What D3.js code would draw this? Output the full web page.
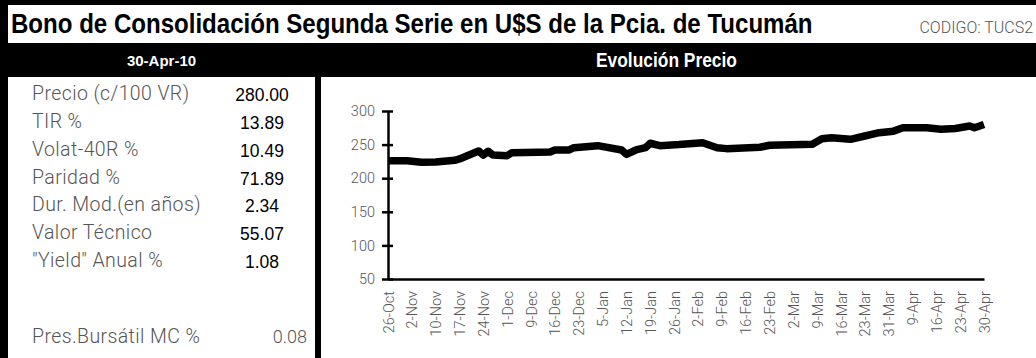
<!DOCTYPE html>
<html>
<head>
<meta charset="utf-8">
<script src="https://cdn.jsdelivr.net/npm/d3@7/dist/d3.min.js"></script>
<style>
  html, body { margin: 0; padding: 0; background: #fff; }
  svg { display: block; }
</style>
</head>
<body>
<svg id="sheet" width="1036" height="358"></svg>
<script>
// Bond fact sheet: summary figures on the left, price evolution on the right.

const titleText = "Bono de Consolidación Segunda Serie en U$S de la Pcia. de Tucumán";
const codeText = "CODIGO: TUCS2";
const asOfDate = "30-Apr-10";
const chartTitle = "Evolución Precio";

// Summary figures
const statLabels = ["Precio (c/100 VR)", "TIR %", "Volat-40R %", "Paridad %",
                    "Dur. Mod.(en años)", "Valor Técnico", "\"Yield\" Anual %"];
const statValues = ["280.00", "13.89", "10.49", "71.89", "2.34", "55.07", "1.08"];
const marketLabel = "Pres.Bursátil MC %";
const marketValue = "0.08";

// Price series: trading-day index (0 = 26-Oct) and price
const dayIndex = [0, 4, 7, 10, 14, 15, 17, 19, 20, 21, 22, 25, 26, 34, 35, 38, 39, 44,
                  49, 50, 52, 54, 55, 57, 61, 66, 69, 71, 78, 80, 89, 91, 93, 97, 100,
                  103, 106, 108, 113, 116, 119, 122, 123, 125];
const prices = [226.0, 226.0, 223.7, 224.0, 226.6, 228.6, 234.5, 240.5, 234.5, 240.0,
                234.5, 233.5, 238.0, 239.0, 242.0, 242.0, 245.4, 248.4, 242.0, 235.5,
                242.0, 245.4, 252.0, 248.4, 250.0, 252.8, 245.4, 244.0, 246.0, 249.0,
                250.4, 258.8, 260.3, 257.8, 262.8, 267.7, 270.0, 275.0, 275.0, 273.0,
                274.0, 277.7, 275.0, 280.0];

// Weekly axis labels, one every five trading days
const weekLabels = ["26-Oct", "2-Nov", "10-Nov", "17-Nov", "24-Nov", "1-Dec", "9-Dec",
                    "16-Dec", "23-Dec", "5-Jan", "12-Jan", "19-Jan", "26-Jan", "2-Feb",
                    "9-Feb", "16-Feb", "23-Feb", "2-Mar", "9-Mar", "16-Mar", "23-Mar",
                    "31-Mar", "9-Apr", "16-Apr", "23-Apr", "30-Apr"];
const yTicks = [50, 100, 150, 200, 250, 300];

const W = 1036, H = 358;
const GREY = "#555";
const NARROW = "'Liberation Sans Narrow', 'Arial Narrow', 'Liberation Sans', sans-serif";
const SANS = "'Liberation Sans', Arial, sans-serif";
const LIGHT = "Roboto, 'Liberation Sans', sans-serif";

const svg = d3.select("#sheet");

// Draws a text at (x, y) and squeezes it horizontally to the given width.
function fittedText(parent, str, x, y, width, anchor) {
  const g = parent.append("g");
  const t = g.append("text").text(str);
  return {
    node: t,
    fit() {
      const natural = t.node().getComputedTextLength();
      const k = Math.min(1, width / natural);
      const left = anchor === "end" ? x - natural * k : x;
      g.attr("transform", `translate(${left},${y}) scale(${k},1)`);
      return t;
    }
  };
}

// Frame and header bands
svg.append("rect").attr("x", 0).attr("y", 0).attr("width", W).attr("height", H).attr("fill", "#000");
svg.append("rect").attr("x", 8).attr("y", 5).attr("width", W - 8).attr("height", 38).attr("fill", "#fff");
svg.append("rect").attr("x", 8).attr("y", 77).attr("width", 307).attr("height", H - 77).attr("fill", "#fff");
svg.append("rect").attr("x", 321).attr("y", 77).attr("width", W - 321).attr("height", H - 77).attr("fill", "#fff");

const title = fittedText(svg, titleText, 11, 33, 802);
title.node.style("font-family", NARROW).style("font-size", "28px").style("font-weight", "bold")
  .attr("fill", "#000");
title.fit();

svg.append("text")
  .attr("x", 1033).attr("y", 33).attr("text-anchor", "end")
  .style("font-family", LIGHT).style("font-size", "16px").style("font-weight", 300)
  .attr("fill", GREY)
  .text(codeText);

svg.append("text")
  .attr("x", 161.5).attr("y", 66).attr("text-anchor", "middle")
  .style("font-family", SANS).style("font-size", "15px").style("font-weight", "bold")
  .attr("fill", "#fff")
  .text(asOfDate);

const heading = fittedText(svg, chartTitle, 596, 67, 141);
heading.node.style("font-family", NARROW).style("font-size", "21px").style("font-weight", "bold")
  .attr("fill", "#fff");
heading.fit();

// Summary table
const rowY = d3.scaleLinear().domain([0, 6]).range([100, 267]);
const stats = svg.append("g");
stats.selectAll("text.lbl").data(statLabels).join("text")
  .attr("class", "lbl")
  .attr("x", 32).attr("y", (d, i) => rowY(i))
  .style("font-family", LIGHT).style("font-size", "19.5px").style("font-weight", 300)
  .style("letter-spacing", "0.4px").attr("fill", GREY)
  .text(d => d);
stats.selectAll("text.val").data(statValues).join("text")
  .attr("class", "val")
  .attr("x", 262).attr("y", (d, i) => rowY(i) + 1).attr("text-anchor", "middle")
  .style("font-family", SANS).style("font-size", "17.5px").attr("fill", "#000")
  .text(d => d);
stats.append("text")
  .attr("x", 32).attr("y", 343)
  .style("font-family", LIGHT).style("font-size", "19.5px").style("font-weight", 300)
  .style("letter-spacing", "0.4px").attr("fill", GREY)
  .text(marketLabel);
stats.append("text")
  .attr("x", 307).attr("y", 343).attr("text-anchor", "end")
  .style("font-family", LIGHT).style("font-size", "18px").style("font-weight", 300)
  .attr("fill", GREY)
  .text(marketValue);

// Price chart
const x = d3.scaleLinear().domain([0, (weekLabels.length - 1) * 5]).range([388, 984]);
const y = d3.scaleLinear().domain([50, 300]).range([279, 111]);

const yAxis = svg.append("g")
  .attr("transform", `translate(${x.range()[0]},0)`)
  .call(d3.axisLeft(y).tickValues(yTicks).tickSize(6).tickPadding(7).tickSizeOuter(0));
yAxis.select(".domain").attr("stroke", "#000").attr("stroke-width", 2.5);
yAxis.selectAll(".tick line").attr("x1", 5).attr("stroke", "#000").attr("stroke-width", 2.5);
yAxis.selectAll(".tick text")
  .style("font-family", LIGHT).style("font-size", "14.5px").style("font-weight", 300)
  .attr("fill", GREY);

const xAxis = svg.append("g")
  .attr("transform", `translate(0,${y(50)})`)
  .call(d3.axisBottom(x)
    .tickValues(weekLabels.map((d, i) => i * 5))
    .tickFormat(v => weekLabels[v / 5])
    .tickSize(0).tickSizeOuter(0));
xAxis.select(".domain").attr("stroke", "#000").attr("stroke-width", 2.5);
xAxis.selectAll(".tick text")
  .attr("transform", "rotate(-90)")
  .attr("x", -12).attr("y", 0).attr("dy", "0.35em")
  .attr("text-anchor", "end")
  .style("font-family", LIGHT).style("font-size", "14.5px").style("font-weight", 300)
  .attr("fill", GREY);

const series = dayIndex.map((d, i) => ({ day: d, price: prices[i] }));
svg.append("path")
  .datum(series)
  .attr("fill", "none")
  .attr("stroke", "#000")
  .attr("stroke-width", 7.5)
  .attr("stroke-linejoin", "round")
  .attr("d", d3.line().x(d => x(d.day)).y(d => y(d.price)));
</script>
</body>
</html>
